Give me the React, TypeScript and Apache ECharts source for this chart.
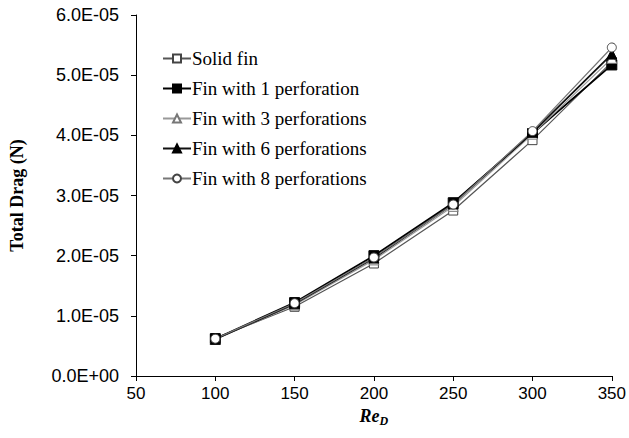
import React, { useEffect, useRef } from "react";
import * as echarts from "echarts";

const reynolds = [100, 150, 200, 250, 300, 350];
const solidFin = [6.3e-6, 1.15e-5, 1.87e-5, 2.75e-5, 3.92e-5, 5.22e-5];
const fin1 = [6.2e-6, 1.22e-5, 2.0e-5, 2.88e-5, 4.03e-5, 5.17e-5];
const fin3 = [6.1e-6, 1.18e-5, 1.93e-5, 2.82e-5, 4.02e-5, 5.28e-5];
const fin6 = [6.1e-6, 1.2e-5, 1.96e-5, 2.86e-5, 4.05e-5, 5.35e-5];
const fin8 = [6.2e-6, 1.21e-5, 1.97e-5, 2.85e-5, 4.07e-5, 5.46e-5];

const seriesNames = [
  "Solid fin",
  "Fin with 1 perforation",
  "Fin with 3 perforations",
  "Fin with 6 perforations",
  "Fin with 8 perforations",
];

function fmtSci(v: number): string {
  if (v === 0) return "0.0E+00";
  const s = v.toExponential(1);
  const [m, e] = s.split("e");
  const sign = e[0] === "-" ? "-" : "+";
  const digits = e.replace(/[+-]/, "").padStart(2, "0");
  return `${m}E${sign}${digits}`;
}

export default function App() {
  const ref = useRef<HTMLDivElement>(null);
  useEffect(() => {
    if (!ref.current) return;
    const chart = echarts.init(ref.current, null, { renderer: "svg" });
    const mk = (
      name: string,
      vals: number[],
      symbol: string,
      lineColor: string,
      fill: string,
      border: string,
      size: number,
      lw: number
    ) => ({
      name,
      type: "line",
      data: reynolds.map((x, i) => [x, vals[i]]),
      symbol,
      symbolSize: size,
      lineStyle: { color: lineColor, width: lw },
      itemStyle: { color: fill, borderColor: border, borderWidth: 1 },
      emphasis: { disabled: true },
    });
    chart.setOption({
      animation: false,
      backgroundColor: "#ffffff",
      grid: { left: 123, right: 17, top: 15, bottom: 62, containLabel: false },
      legend: {
        orient: "vertical",
        left: 157,
        top: 44,
        itemWidth: 28,
        itemHeight: 10,
        itemGap: 11,
        textStyle: {
          fontFamily: "Liberation Serif",
          fontSize: 19,
          color: "#000",
          padding: [0, 0, 0, -4],
        },
        data: seriesNames,
      },
      xAxis: {
        type: "value",
        min: 50,
        max: 350,
        interval: 50,
        name: "{b|Re}{s|D}",
        nameLocation: "middle",
        nameGap: 25,
        nameTextStyle: {
          rich: {
            b: {
              fontFamily: "Liberation Serif",
              fontWeight: "bold",
              fontStyle: "italic",
              fontSize: 18,
              color: "#000",
            },
            s: {
              fontFamily: "Liberation Serif",
              fontWeight: "bold",
              fontStyle: "italic",
              fontSize: 12,
              color: "#000",
              padding: [10, 0, 0, 0],
            },
          },
        },
        axisLine: { show: true, lineStyle: { color: "#000", width: 1 } },
        axisTick: { show: true, length: 5, lineStyle: { color: "#000" } },
        axisLabel: {
          fontFamily: "Liberation Sans",
          fontSize: 17,
          color: "#000",
          margin: 9,
        },
        splitLine: { show: false },
      },
      yAxis: {
        type: "value",
        min: 0,
        max: 6e-5,
        interval: 1e-5,
        name: "Total Drag (N)",
        nameLocation: "middle",
        nameGap: 110,
        nameTextStyle: {
          fontFamily: "Liberation Serif",
          fontWeight: "bold",
          fontSize: 18,
          color: "#000",
        },
        axisLine: { show: true, lineStyle: { color: "#000", width: 1 } },
        axisTick: { show: true, length: 5, lineStyle: { color: "#000" } },
        axisLabel: {
          fontFamily: "Liberation Sans",
          fontSize: 18,
          color: "#000",
          margin: 17,
          formatter: (v: number) => fmtSci(v),
        },
        splitLine: { show: false },
      },
      series: [
        mk(seriesNames[0], solidFin, "rect", "#555", "#fff", "#444", 9, 1.2),
        mk(seriesNames[1], fin1, "rect", "#000", "#000", "#000", 10, 1.8),
        mk(seriesNames[2], fin3, "triangle", "#999", "#fff", "#777", 10, 1.2),
        mk(seriesNames[3], fin6, "triangle", "#111", "#000", "#000", 10, 1.8),
        mk(seriesNames[4], fin8, "circle", "#777", "#fff", "#444", 9, 1.2),
      ],
    });
    return () => chart.dispose();
  }, []);
  return (
    <div
      ref={ref}
      style={{ position: "absolute", left: 0, top: 0, width: 629, height: 438 }}
    />
  );
}
